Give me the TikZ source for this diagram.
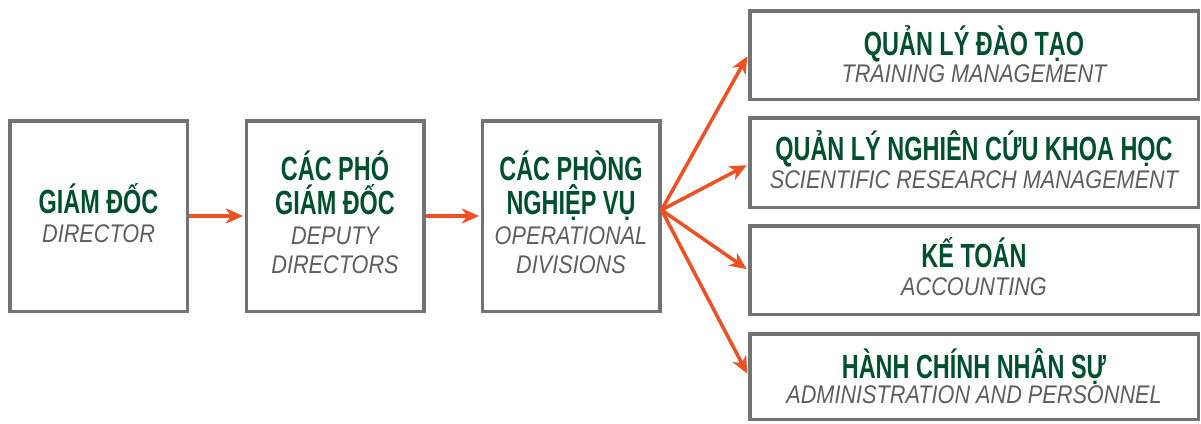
\documentclass[tikz,border=0pt]{standalone}
\usepackage{fontspec}
\usetikzlibrary{arrows.meta}
\newfontfamily\titlef{Liberation Sans}[FakeStretch=0.70]
\newfontfamily\subf{Liberation Sans}[FakeStretch=0.85]
\definecolor{boxgray}{HTML}{737373}
\definecolor{titlegreen}{HTML}{00502F}
\definecolor{subgray}{HTML}{5E5E5E}
\definecolor{arroworange}{HTML}{F04E23}
\tikzset{
  box/.style={draw=boxgray, line width=3.5pt, fill=white, rectangle, inner sep=0pt},
  ttl/.style={anchor=base, inner sep=0pt, text=titlegreen, font=\titlef\bfseries\fontsize{33.5}{34}\selectfont},
  sub/.style={anchor=base, inner sep=0pt, text=subgray, font=\subf\itshape\fontsize{25.5}{26}\selectfont},
  conn/.style={draw=arroworange, line width=3.5pt, -{Stealth[length=17pt,width=15pt,inset=5pt]}, shorten >=1.5pt}
}
\begin{document}
\begin{tikzpicture}[x=1pt,y=-1pt]
\useasboundingbox[fill=white] (0,0) rectangle (1201,423);
% left boxes
\node[box, minimum width=177.5pt, minimum height=190.5pt] (b1) at (98.5,216) {};
\node[box, minimum width=177.5pt, minimum height=190.5pt] (b2) at (335,216) {};
\node[box, minimum width=177.5pt, minimum height=190.5pt] (b3) at (571,216) {};
% right boxes
\node[box, minimum width=448.5pt, minimum height=88.5pt] (r1) at (974,55) {};
\node[box, minimum width=448.5pt, minimum height=89.5pt] (r2) at (974,162.5) {};
\node[box, minimum width=448.5pt, minimum height=88.5pt] (r3) at (974,270) {};
\node[box, minimum width=448.5pt, minimum height=85.5pt] (r4) at (974,376.5) {};
% texts
\node[ttl] (t1) at (98.5,213) {GIÁM ĐỐC};
\node[sub] (s1) at (98.5,242) {DIRECTOR};
\node[ttl] (t2a) at (335,180) {CÁC PHÓ};
\node[ttl] (t2b) at (335,214) {GIÁM ĐỐC};
\node[sub] (s2a) at (335,244) {DEPUTY};
\node[sub] (s2b) at (335,273) {DIRECTORS};
\node[ttl] (t3a) at (571,180) {CÁC PHÒNG};
\node[ttl] (t3b) at (571,214) {NGHIỆP VỤ};
\node[sub] (s3a) at (571,244) {OPERATIONAL};
\node[sub] (s3b) at (571,273) {DIVISIONS};
\node[ttl] (tr1) at (974,55) {QUẢN LÝ ĐÀO TẠO};
\node[sub] (sr1) at (974,82) {TRAINING MANAGEMENT};
\node[ttl] (tr2) at (974,160) {QUẢN LÝ NGHIÊN CỨU KHOA HỌC};
\node[sub] (sr2) at (974,188) {SCIENTIFIC RESEARCH MANAGEMENT};
\node[ttl] (tr3) at (974,267) {KẾ TOÁN};
\node[sub] (sr3) at (974,295) {ACCOUNTING};
\node[ttl] (tr4) at (974,378) {HÀNH CHÍNH NHÂN SỰ};
\node[sub] (sr4) at (974,403) {ADMINISTRATION AND PERSONNEL};
% connectors
\coordinate (fan) at ([yshift=6pt]b3.east);
\draw[conn] (b1.east) -- (b2.west);
\draw[conn] (b2.east) -- (b3.west);
\draw[conn] (fan) -- (r1.west);
\draw[conn] (fan) -- ([yshift=-2pt]r2.west);
\draw[conn] (fan) -- (r3.west);
\draw[conn] (fan) -- ([yshift=1.5pt]r4.west);
\end{tikzpicture}
\end{document}
